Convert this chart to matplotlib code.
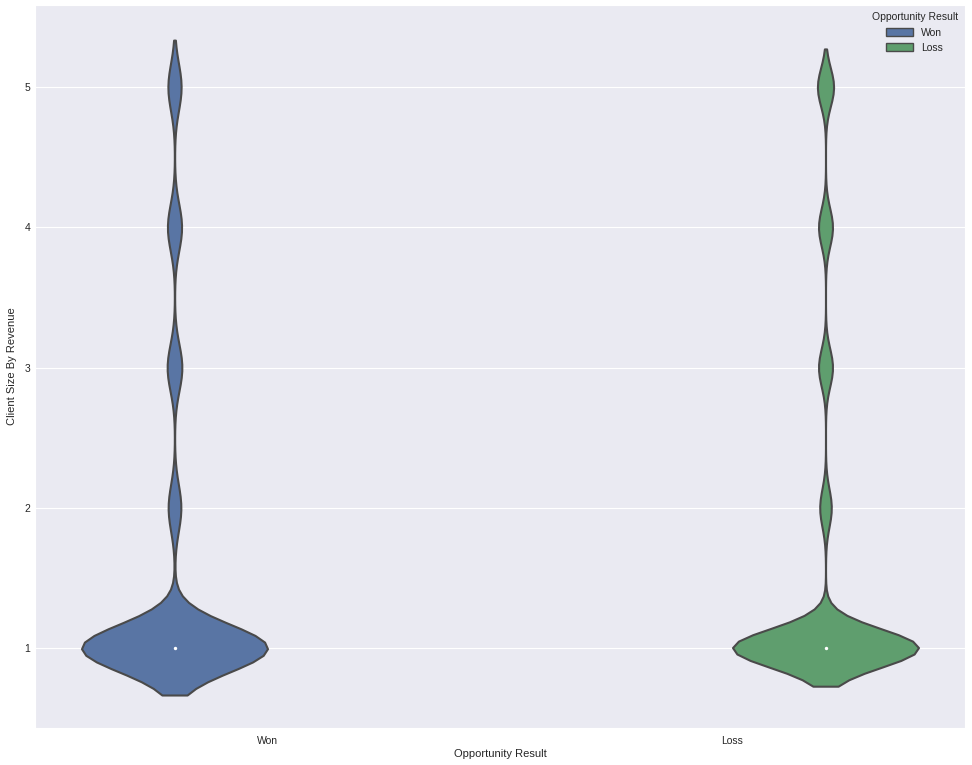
import numpy as np
import pandas as pd
import matplotlib
matplotlib.use("Agg")
import matplotlib.pyplot as plt
from matplotlib.patches import Patch
import seaborn as sns

# client size levels and how many opportunities fall in each
sizes = [1, 2, 3, 4, 5]
won_counts = [13140, 900, 1040, 1000, 935]
loss_counts = [46140, 2880, 3480, 3480, 4020]
results = ["Won", "Loss"]
colors = ["#4C72B0", "#55A868"]

df = pd.DataFrame({
    "Opportunity Result": ["Won"] * sum(won_counts) + ["Loss"] * sum(loss_counts),
    "Client Size By Revenue": np.concatenate([np.repeat(sizes, won_counts),
                                              np.repeat(sizes, loss_counts)]),
})

sns.set_style("darkgrid")
plt.rcParams['font.family'] = ['Liberation Sans', 'DejaVu Sans']
plt.rcParams['font.size'] = 7.5

fig = plt.figure(figsize=(9.72, 7.65), dpi=100)
ax = fig.add_axes([35 / 972, 1 - 728 / 765, 930 / 972, 723 / 765])

sns.violinplot(data=df, x="Opportunity Result", y="Client Size By Revenue",
               hue="Opportunity Result", hue_order=results, order=results,
               palette=colors, dodge=True, density_norm="width",
               saturation=0.75, linecolor="#4a4a4a", linewidth=1.5,
               inner=None, legend=False, ax=ax)

# median dot in the middle of each violin
fills = [c for c in ax.collections if len(c.get_paths()) > 0]
for res, coll in zip(results, fills):
    verts = coll.get_paths()[0].vertices
    xc = (verts[:, 0].min() + verts[:, 0].max()) / 2
    med = df.loc[df["Opportunity Result"] == res, "Client Size By Revenue"].median()
    ax.scatter([xc], [med], s=6, color="white", zorder=5, linewidths=0)

ax.set_xlim(-0.5, 1.5)
ax.set_ylim(0.43, 5.585)
ax.set_yticks(sizes)
ax.tick_params(labelsize=7.5, length=0, labelcolor="#262626")
ax.tick_params(axis="x", pad=6)
ax.set_xlabel("Opportunity Result", fontsize=8, color="#262626", labelpad=2)
ax.set_ylabel("Client Size By Revenue", fontsize=8, color="#262626", labelpad=5)

fill_cols = sns.color_palette(colors, desat=0.75)
handles = [Patch(facecolor=fc, edgecolor="#4a4a4a", linewidth=1.0, label=lab)
           for fc, lab in zip(fill_cols, results)]
ax.legend(handles=handles, title="Opportunity Result", loc="upper right",
          frameon=False, fontsize=7.5, title_fontsize=7.5,
          borderaxespad=0.3, handlelength=2.6, handleheight=0.8)

fig.savefig("out.png", dpi=100)
